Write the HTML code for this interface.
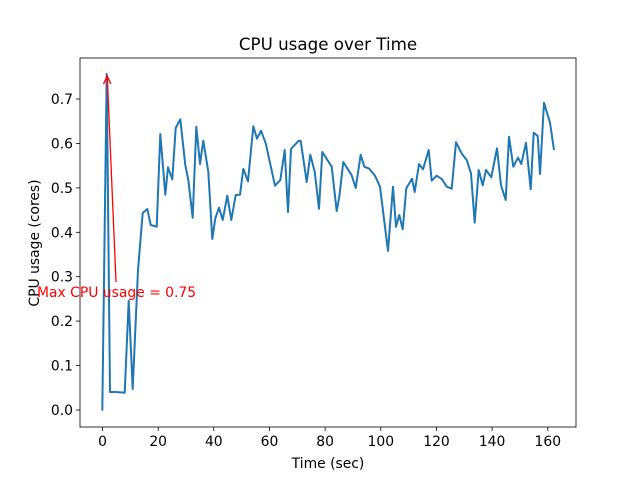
<!DOCTYPE html>
<html><head><meta charset="utf-8"><style>body{margin:0;background:#fff}svg{display:block}text{font-family:"DejaVu Sans","Liberation Sans",sans-serif}</style></head><body>
<svg width="640" height="480" viewBox="0 0 640 480" xmlns="http://www.w3.org/2000/svg">
<rect width="640" height="480" fill="#fff"/>
<text x="328" y="50" font-size="16.7" text-anchor="middle">CPU usage over Time</text>
<g stroke="#000" stroke-width="0.8">
<line x1="102.5" y1="427" x2="102.5" y2="431"/><line x1="158.2" y1="427" x2="158.2" y2="431"/><line x1="213.8" y1="427" x2="213.8" y2="431"/><line x1="269.5" y1="427" x2="269.5" y2="431"/><line x1="325.1" y1="427" x2="325.1" y2="431"/><line x1="380.8" y1="427" x2="380.8" y2="431"/><line x1="436.5" y1="427" x2="436.5" y2="431"/><line x1="492.1" y1="427" x2="492.1" y2="431"/><line x1="547.8" y1="427" x2="547.8" y2="431"/>
<line x1="76" y1="410" x2="80" y2="410"/><line x1="76" y1="365.6" x2="80" y2="365.6"/><line x1="76" y1="321.1" x2="80" y2="321.1"/><line x1="76" y1="276.7" x2="80" y2="276.7"/><line x1="76" y1="232.3" x2="80" y2="232.3"/><line x1="76" y1="187.9" x2="80" y2="187.9"/><line x1="76" y1="143.4" x2="80" y2="143.4"/><line x1="76" y1="99" x2="80" y2="99"/>
</g>
<g font-size="13.9" text-anchor="middle">
<text x="102.5" y="446">0</text><text x="158.2" y="446">20</text><text x="213.8" y="446">40</text><text x="269.5" y="446">60</text><text x="325.1" y="446">80</text><text x="380.8" y="446">100</text><text x="436.5" y="446">120</text><text x="492.1" y="446">140</text><text x="547.8" y="446">160</text>
</g>
<g font-size="13.9" text-anchor="end">
<text x="73" y="415">0.0</text><text x="73" y="370.6">0.1</text><text x="73" y="326.1">0.2</text><text x="73" y="281.7">0.3</text><text x="73" y="237.3">0.4</text><text x="73" y="192.9">0.5</text><text x="73" y="148.4">0.6</text><text x="73" y="104">0.7</text>
</g>
<text x="328" y="468" font-size="13.9" text-anchor="middle">Time (sec)</text>
<text transform="translate(39,243) rotate(-90)" font-size="13.9" text-anchor="middle">CPU usage (cores)</text>
<polyline fill="none" stroke="#1f77b4" stroke-width="2" stroke-linejoin="round" points="102.3,410.7 106.7,74 110,392 116,392 124.7,392.7 128.7,300.7 132.7,389 138,270 142.7,213 147.3,209 150.7,225 156.7,226.7 160.3,134 165.3,194.7 168,167.3 172.3,179.3 175.7,128 180.3,119.3 185.3,165 188.3,180 192.7,217.7 196.3,126.7 200,164 203.3,140.7 208.3,171.7 212.3,239 215.3,218.3 219,207.7 222.7,220 227.3,195.7 231.3,220 235.7,195 240,194.7 243.3,168.7 248,181.3 253.3,126.3 257,138.7 261,130.7 265.7,143.3 275,185.7 280.3,180 284.7,150 288,212 291,149 298.7,140.7 300.7,141 306.7,182 310.3,154.7 314.7,171.7 319,208.7 322.3,152 331.7,166.7 336.7,211 339.3,196.7 343.3,162 346.7,167.3 351.7,175.3 355.7,188 360.7,154.7 364.3,166.7 369.3,168.7 375,175.7 380,186.7 388,251 393,186.7 396,226.7 399.3,215 402.7,229.3 406.3,188.3 412,178.7 414.7,192 419,164 423,169.3 428.7,150 431.7,180.7 436.7,175.7 442,179.3 446.7,186.7 451.7,188.7 456,142.3 462,154 466.7,160 471,173.3 474.7,222.7 478.7,170 482.7,185.3 486,170 491.3,177.3 497,148.3 501,185.3 505.7,200 509,136.7 513.3,166.7 518,157.7 521.3,164 526,142.7 530.7,189.3 533.7,132.7 537.7,136 540,174 544,102.7 550,122.7 554,150"/>
<line x1="116" y1="282" x2="107.3" y2="77" stroke="red" stroke-width="1.3"/>
<polyline points="103.5,84 107.2,76 110.8,84" fill="none" stroke="red" stroke-width="1.3"/>
<text x="37" y="297" font-size="13.9" fill="red">Max CPU usage = 0.75</text>
<rect x="80" y="58" width="496" height="369" fill="none" stroke="#000" stroke-width="0.8"/>
</svg>
</body></html>
